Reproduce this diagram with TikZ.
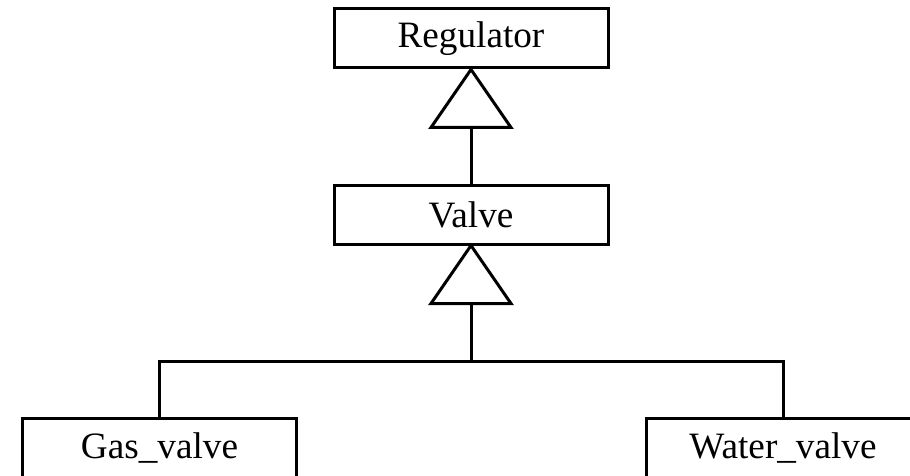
\documentclass[tikz,border=0pt]{standalone}
\usepackage{fontspec}
\setmainfont{Liberation Serif}
\usetikzlibrary{calc}
\begin{document}
\begin{tikzpicture}[x=0.5pt,y=-0.5pt,line width=1.5pt,
  classbox/.style={draw,minimum width=137pt,minimum height=29.5pt,inner sep=0pt,
    font=\fontsize{18.6}{22}\selectfont},
  inherit/.style={draw,fill=white}]
\useasboundingbox (0,0) rectangle (910,476);
\clip (0,0) rectangle (910,476);
% class boxes
\node[classbox] (reg)   at (471,38.5)  {Regulator};
\node[classbox] (valve) at (471,214.5) {Valve};
\node[classbox] (gas)   at (159.5,447.5) {Gas\_valve};
\node[classbox] (water) at (783,447.5) {Water\_valve};
\coordinate (junction) at (471,361);
% generalisation Valve -> Regulator
\draw[inherit] (reg.south) -- ++(-40,58) -- ++(80,0) -- cycle;
\draw ($(reg.south)+(0,58)$) -- (valve.north);
% generalisation of the two valves -> Valve
\draw[inherit] (valve.south) -- ++(-40,58) -- ++(80,0) -- cycle;
\draw ($(valve.south)+(0,58)$) -- (junction);
\draw (gas.north) |- (junction) -| (water.north);
\end{tikzpicture}
\end{document}
